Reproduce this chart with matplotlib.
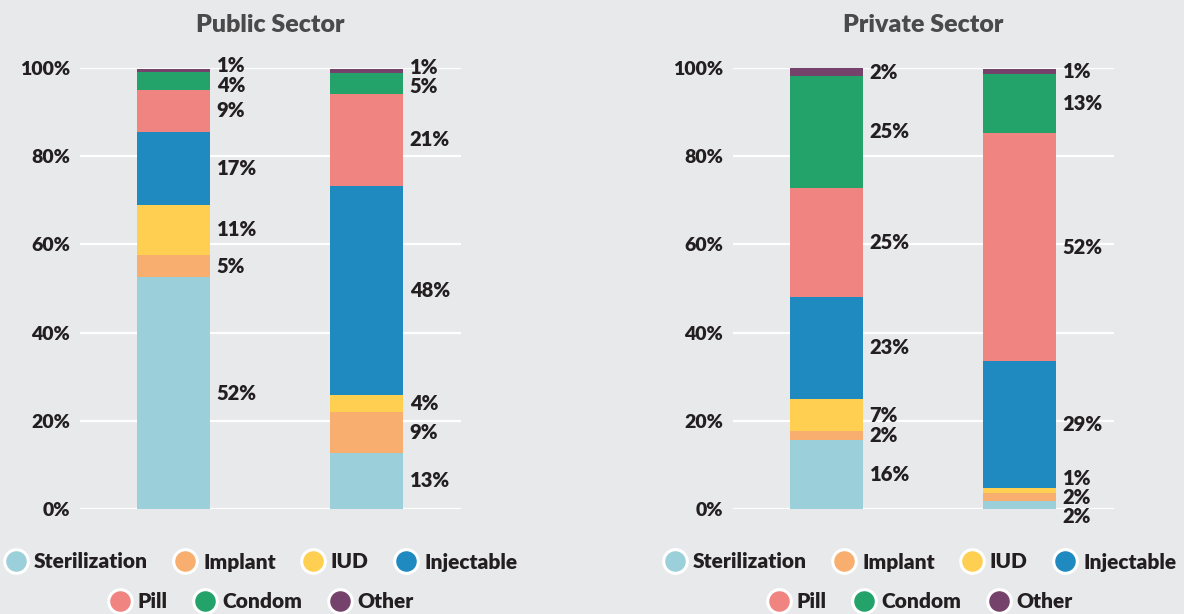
import numpy as np
import matplotlib
matplotlib.use('Agg')
import matplotlib.pyplot as plt
from matplotlib.lines import Line2D

plt.rcParams['font.family'] = ['Lato', 'DejaVu Sans']
plt.rcParams['font.weight'] = 'bold'

methods = ['Sterilization', 'Implant', 'IUD', 'Injectable', 'Pill', 'Condom', 'Other']
colors = ['#9bcfda', '#f7ae6e', '#ffcf52', '#1f8ac0', '#ef8481', '#23a26a', '#74426a']

# shares in %, bottom to top
public_bar1 = [52.5, 5.1, 11.4, 16.5, 9.6, 4.1, 0.6]
public_bar2 = [12.6, 9.4, 3.8, 47.5, 20.9, 4.8, 0.9]
private_bar1 = [15.7, 1.9, 7.3, 23.2, 24.7, 25.5, 1.7]
private_bar2 = [1.75, 1.85, 1.1, 28.8, 51.8, 13.5, 1.0]

# printed labels
public_lab1 = [52, 5, 11, 17, 9, 4, 1]
public_lab2 = [13, 9, 4, 48, 21, 5, 1]
private_lab1 = [16, 2, 7, 23, 25, 25, 2]
private_lab2 = [2, 2, 1, 29, 52, 13, 1]

BG = '#e8e9eb'
TXT = '#231f20'


def spread(centers, min_gap=4.4):
    # push labels apart so small segments don't overlap
    pos = list(centers)
    for _ in range(50):
        moved = False
        for i in range(len(pos) - 1):
            gap = pos[i + 1] - pos[i]
            if gap < min_gap:
                d = (min_gap - gap) / 2
                pos[i] -= d
                pos[i + 1] += d
                moved = True
        if not moved:
            break
    return pos


def draw_panel(ax, title, bars, labels):
    ax.set_facecolor(BG)
    width = 0.375
    for x, (vals, labs) in enumerate(zip(bars, labels)):
        bottoms = np.concatenate([[0], np.cumsum(vals)[:-1]])
        for v, b, c in zip(vals, bottoms, colors):
            ax.bar(x, v, width, bottom=b, color=c, zorder=3, linewidth=0)
        centers = bottoms + np.array(vals) / 2
        for y, lab in zip(spread(centers), labs):
            ax.annotate(f'{lab}%', xy=(x + width / 2, y), xytext=(5, 0),
                        textcoords='offset points', va='center', ha='left',
                        fontsize=14.5, fontweight='heavy', color=TXT,
                        annotation_clip=False)
    ax.set_xlim(-0.485, 1.49)
    ax.set_ylim(0, 100)
    ax.set_yticks(np.arange(0, 101, 20))
    ax.set_yticklabels([f'{t}%' for t in range(0, 101, 20)], fontweight='heavy')
    ax.tick_params(axis='y', length=0, pad=7, labelsize=14, labelcolor=TXT)
    ax.set_xticks([])
    ax.grid(axis='y', color='white', linewidth=1.6, zorder=0)
    for s in ax.spines.values():
        s.set_visible(False)
    ax.set_title(title, fontsize=18, fontweight='heavy', color='#4a4a4a', pad=26)


fig = plt.figure(figsize=(11.84, 6.14), dpi=100, facecolor=BG)
ax1 = fig.add_axes([80 / 1184, 0.1715, 381 / 1184, 0.7173])
ax2 = fig.add_axes([733 / 1184, 0.1715, 381 / 1184, 0.7173])

draw_panel(ax1, 'Public Sector', [public_bar1, public_bar2], [public_lab1, public_lab2])
draw_panel(ax2, 'Private Sector', [private_bar1, private_bar2], [private_lab1, private_lab2])

handles = [Line2D([], [], marker='o', linestyle='', markersize=17,
                  markerfacecolor=c, markeredgecolor='white', markeredgewidth=2.2)
           for c in colors]

for cx in (261 / 1184, 920 / 1184):
    for rows, yy in ((slice(0, 4), 1 - 562 / 614), (slice(4, 7), 1 - 602 / 614)):
        leg = fig.legend(handles[rows], methods[rows], loc='center',
                         bbox_to_anchor=(cx, yy), ncol=len(methods[rows]),
                         frameon=False, handletextpad=0.3, columnspacing=1.25,
                         handlelength=1.1, borderpad=0, fontsize=15)
        for t in leg.get_texts():
            t.set_color(TXT)
            t.set_fontweight('heavy')

fig.savefig('out.png', dpi=100, facecolor=BG)
